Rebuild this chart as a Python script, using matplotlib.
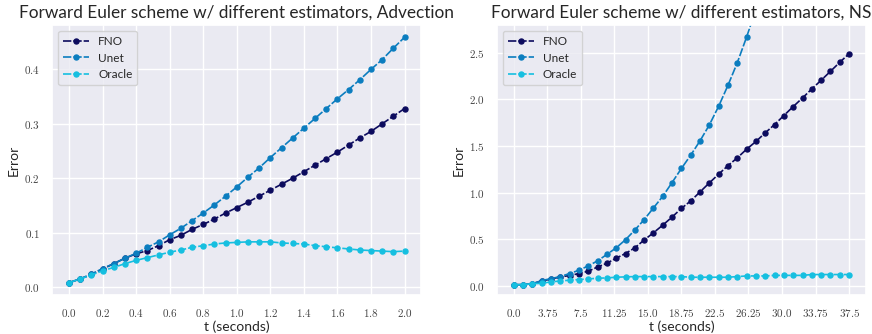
import matplotlib
matplotlib.use('Agg')
import matplotlib.pyplot as plt
import seaborn as sns
import numpy as np

sns.set_theme(style='darkgrid')
plt.rcParams['font.family'] = ['Lato', 'DejaVu Sans']
plt.rcParams['mathtext.fontset'] = 'cm'

# Advection (t from 0 to 2, 31 steps)
t_adv = np.linspace(0.0, 2.0, 31)
fno_adv = [0.008, 0.015, 0.023, 0.033, 0.043, 0.053, 0.061, 0.067, 0.076, 0.087,
           0.095, 0.106, 0.115, 0.125, 0.136, 0.146, 0.156, 0.167, 0.178, 0.189,
           0.200, 0.212, 0.224, 0.236, 0.248, 0.261, 0.274, 0.286, 0.300, 0.314,
           0.328]
unet_adv = [0.008, 0.015, 0.024, 0.034, 0.043, 0.053, 0.062, 0.073, 0.083, 0.096,
            0.108, 0.122, 0.136, 0.151, 0.167, 0.184, 0.202, 0.219, 0.238, 0.256,
            0.274, 0.292, 0.310, 0.328, 0.346, 0.363, 0.381, 0.400, 0.418, 0.439,
            0.459]
oracle_adv = [0.008, 0.015, 0.022, 0.030, 0.036, 0.043, 0.049, 0.054, 0.059, 0.064,
              0.068, 0.073, 0.076, 0.079, 0.081, 0.082, 0.083, 0.083, 0.083, 0.081,
              0.080, 0.079, 0.076, 0.074, 0.072, 0.070, 0.068, 0.067, 0.066, 0.065,
              0.066]

# NS (t from 0 to 37.5, 37 steps)
t_ns = np.linspace(0.0, 37.5, 37)
fno_ns = [0.01, 0.01, 0.02, 0.05, 0.07, 0.094, 0.108, 0.13, 0.155, 0.20,
          0.24, 0.295, 0.345, 0.406, 0.49, 0.568, 0.65, 0.737, 0.83, 0.91,
          1.007, 1.104, 1.198, 1.29, 1.373, 1.466, 1.549, 1.642, 1.731, 1.828,
          1.924, 2.017, 2.114, 2.207, 2.303, 2.40, 2.493]
unet_ns = [0.01, 0.01, 0.02, 0.054, 0.075, 0.097, 0.13, 0.165, 0.212, 0.266,
           0.335, 0.406, 0.493, 0.597, 0.709, 0.835, 0.96, 1.108, 1.259, 1.402,
           1.556, 1.727, 1.928, 2.153, 2.396, 2.672, 2.97, 3.30, 3.66, 4.05,
           4.48, 4.95, 5.46, 6.02, 6.63, 7.29, 8.01]
oracle_ns = [0.01, 0.01, 0.02, 0.025, 0.04, 0.05, 0.058, 0.065, 0.072, 0.079,
             0.083, 0.09, 0.094, 0.097, 0.097, 0.097, 0.097, 0.097, 0.097, 0.09,
             0.09, 0.09, 0.09, 0.09, 0.097, 0.104, 0.104, 0.104, 0.11, 0.11,
             0.11, 0.11, 0.119, 0.119, 0.119, 0.119, 0.119]

xticks_adv = np.linspace(0.0, 2.0, 11)
xticks_ns = np.linspace(0.0, 37.5, 11)
yticks_adv = [0.0, 0.1, 0.2, 0.3, 0.4]
yticks_ns = [0.0, 0.5, 1.0, 1.5, 2.0, 2.5]

colors = {'FNO': '#0c0b5e', 'Unet': '#0b7dbf', 'Oracle': '#16bfe0'}


def fmt(v):
    return '$%s$' % str(round(float(v), 2))


fig, axes = plt.subplots(1, 2, figsize=(8.72, 3.34), dpi=100)

panels = [
    (axes[0], t_adv, [fno_adv, unet_adv, oracle_adv], xticks_adv, yticks_adv, 'Advection'),
    (axes[1], t_ns, [fno_ns, unet_ns, oracle_ns], xticks_ns, yticks_ns, 'NS'),
]

for ax, t, series, xt, yt, name in panels:
    for label, y in zip(['FNO', 'Unet', 'Oracle'], series):
        ax.plot(t, y, 'o--', color=colors[label], label=label,
                markersize=3.6, linewidth=1.2, dashes=(5, 1.2))
    ax.set_xticks(xt)
    ax.set_xticklabels([fmt(v) for v in xt])
    ax.set_yticks(yt)
    ax.set_yticklabels([fmt(v) for v in yt])
    ax.set_title('Forward Euler scheme w/ different estimators, ' + name,
                 fontsize=12.4, pad=5)
    ax.set_xlabel('t (seconds)', fontsize=10, labelpad=1)
    ax.set_ylabel('Error', fontsize=10, labelpad=3)
    ax.tick_params(labelsize=8, pad=3, labelcolor='#444444')
    ax.legend(loc='upper left', fontsize=8.5, handlelength=2.2)

axes[1].set_ylim(-0.1, 2.8)

plt.subplots_adjust(left=0.06, right=0.993, bottom=0.117, top=0.925, wspace=0.205)
plt.savefig('out.png')
